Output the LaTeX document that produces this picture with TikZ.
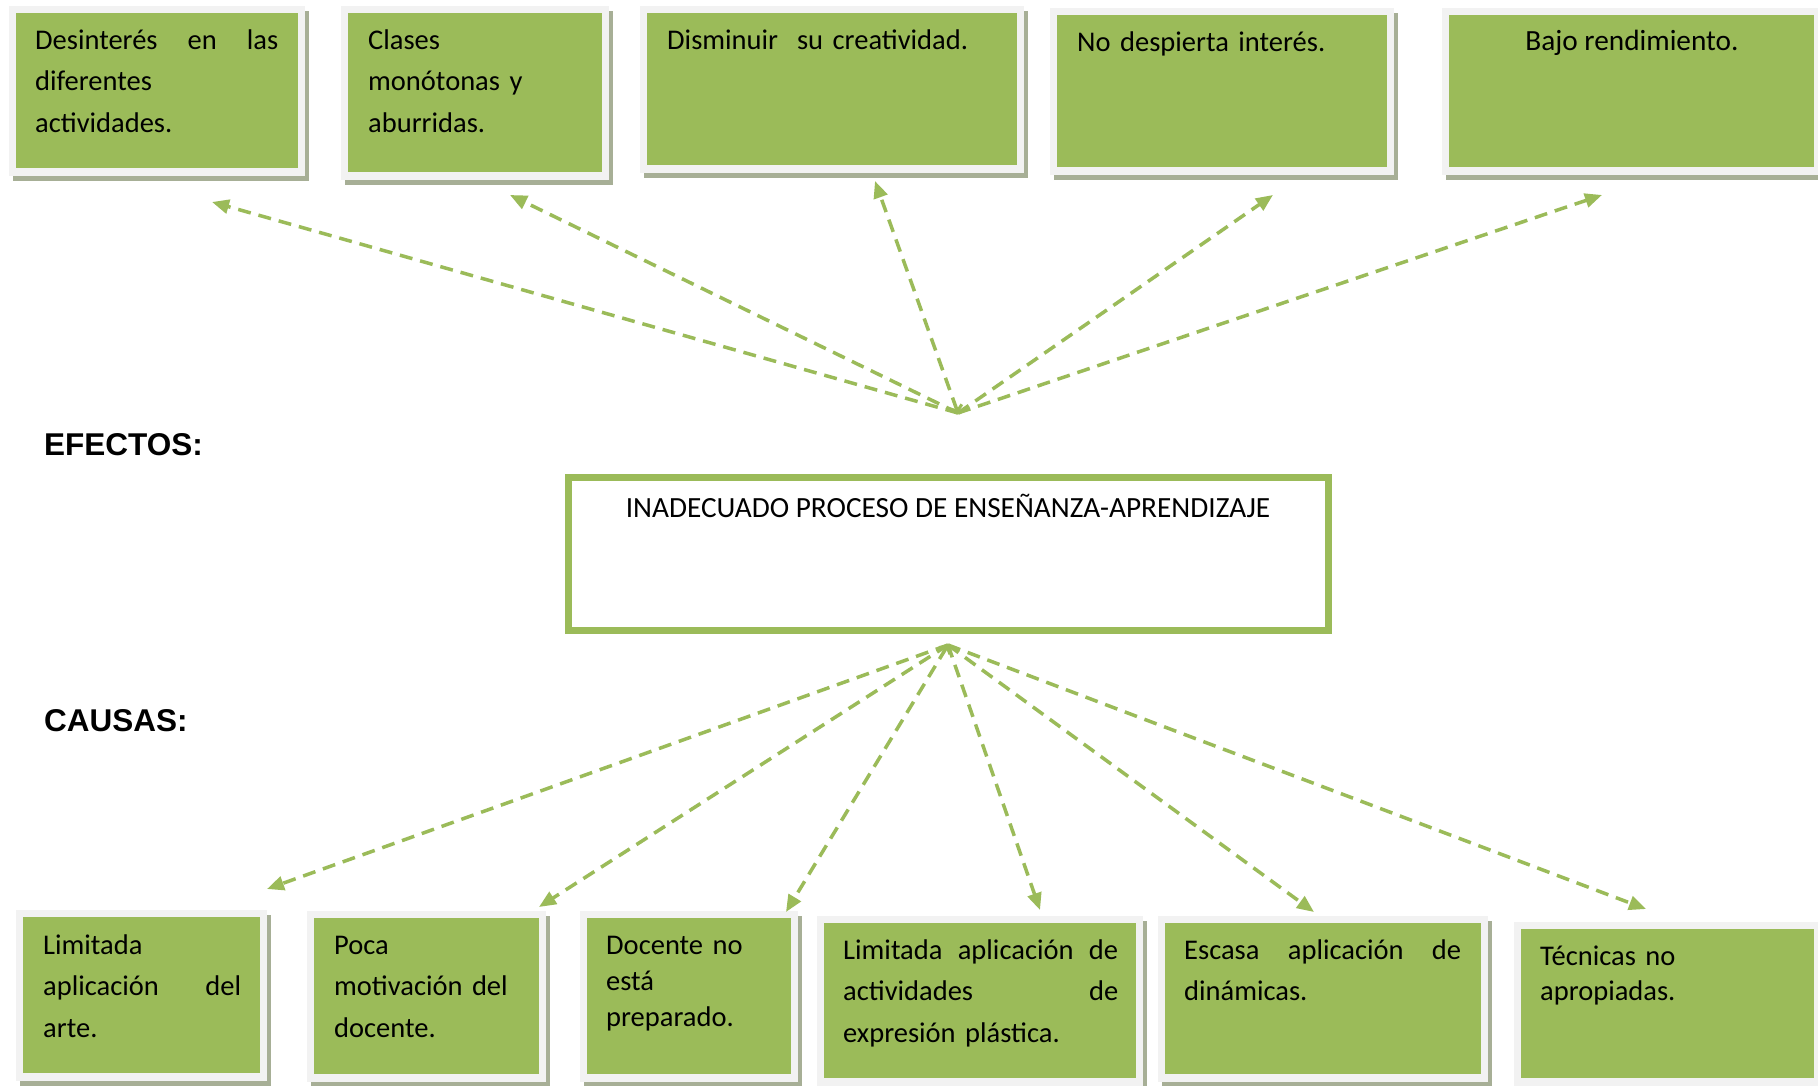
\documentclass[tikz,border=0pt]{standalone}
\usepackage{fontspec}
\setmainfont{Carlito}
\newfontfamily\hdfont{Liberation Sans}
\usetikzlibrary{arrows.meta}
\definecolor{gr}{HTML}{9BBB59}
\definecolor{frm}{HTML}{F2F2F2}
\definecolor{shd}{HTML}{A7AF96}
\tikzset{
  greenbox/.style={fill=gr, draw=none, inner sep=0pt, outer sep=0pt, anchor=north west},
  boxtext/.style={anchor=north west, inner sep=0pt, align=left, text width=#1,
    font=\fontsize{28.5}{41.5}\selectfont},
  tipT/.tip={Triangle[length=17pt,width=14pt]},
  conn/.style={draw=gr, line width=3.5pt, dash pattern=on 13pt off 8pt, -tipT},
  startbarb/.style={{Straight Barb[length=5pt,width=13pt,line width=3pt]}-tipT},
  heading/.style={font=\hdfont\bfseries\fontsize{31.5}{36}\selectfont, anchor=base west, inner sep=0pt},
  mainbox/.style={draw=gr, line width=7pt, fill=white, inner sep=0pt},
  maintext/.style={font=\fontsize{29.3}{34}\selectfont, anchor=base, inner sep=0pt},
}
% name, x1, y1, x2, y2 (inner green rectangle, pixels)
\newcommand\gbox[5]{%
  \fill[shd] (#2-3,#3-2) rectangle (#4+11,#5+13);
  \fill[frm] (#2-7,#3-7) rectangle (#4+7,#5+8);
  \node[greenbox, minimum width={#4-#2}, minimum height={#5-#3}] (#1) at (#2,#3) {};
}
\begin{document}
\begin{tikzpicture}[x=1pt, y=-1pt]
\fill[white] (0,0) rectangle (1818,1086);
\useasboundingbox (0,0) rectangle (1818,1086);

% effect boxes
\gbox{e1}{16}{13}{298}{168}
\gbox{e2}{348}{13}{602}{172}
\gbox{e3}{647}{13}{1017}{165}
\gbox{e4}{1057}{15}{1387}{167}
\gbox{e5}{1449}{15}{1814}{167}

\node[boxtext=243pt] (e1t) at (35,21) {\rule{0pt}{28pt}Desinterés\hfill en\hfill las\\diferentes\\actividades.};
\node[boxtext=230pt] (e2t) at (368,21) {\rule{0pt}{28pt}Clases\\monótonas y\\aburridas.};
\node[boxtext=340pt] (e3t) at (667,21) {\rule{0pt}{28pt}Disminuir\ \ su creatividad.};
\node[boxtext=300pt] (e4t) at (1077,23) {\rule{0pt}{28pt}No despierta interés.};
\node[maintext] (e5t) at (1632,51) {Bajo rendimiento.};

% cause boxes
\gbox{c1}{23}{917}{260}{1073}
\gbox{c2}{314}{918}{539}{1074}
\gbox{c3}{587}{918}{791}{1074}
\gbox{c4}{824}{923}{1136}{1078}
\gbox{c5}{1165}{923}{1481}{1074}
\gbox{c6}{1521}{929}{1814}{1078}

\node[boxtext=198pt] (c1t) at (43,926) {\rule{0pt}{28pt}Limitada\\aplicación\hfill del\\arte.};
\node[boxtext=200pt] (c2t) at (334,926) {\rule{0pt}{28pt}Poca\\motivación del\\docente.};
\node[boxtext=180pt, font=\fontsize{28.5}{36}\selectfont] (c3t) at (606,926) {\rule{0pt}{28pt}Docente no\\está\\preparado.};
\node[boxtext=275pt] (c4t) at (843,931) {\rule{0pt}{28pt}Limitada\hfill aplicación\hfill de\\actividades\hfill de\\expresión plástica.};
\node[boxtext=277pt] (c5t) at (1184,931) {\rule{0pt}{28pt}Escasa\hfill aplicación\hfill de\\dinámicas.};
\node[boxtext=260pt, font=\fontsize{28.5}{35}\selectfont] (c6t) at (1540,937) {\rule{0pt}{28pt}Técnicas no\\apropiadas.};

% headings
\node[heading] (efectos) at (44,455) {EFECTOS:};
\node[heading] (causas) at (44,731) {CAUSAS:};

% central problem
\node[mainbox, minimum width=760pt, minimum height=153pt] (main) at (948.5,554) {};
\node[maintext] (maint) at (948,517) {INADECUADO PROCESO DE ENSEÑANZA-APRENDIZAJE};

% connectors: effects
\coordinate (ctop) at (958,413);
\coordinate (t1) at (212,202);
\coordinate (t2) at (510,195);
\coordinate (t3) at (875,181);
\coordinate (t4) at (1273,195);
\coordinate (t5) at (1602,195);
\draw[conn] (ctop) -- (t1);
\draw[conn] (ctop) -- (t2);
\draw[conn, startbarb] (ctop) -- (t3);
\draw[conn] (ctop) -- (t4);
\draw[conn] (ctop) -- (t5);

% connectors: causes
\coordinate (cbot) at (948,645);
\coordinate (b1) at (267,889);
\coordinate (b2) at (539,907);
\coordinate (b3) at (786,912);
\coordinate (b4) at (1040,910);
\coordinate (b5) at (1314,912);
\coordinate (b6) at (1646,909);
\draw[conn] (cbot) -- (b1);
\draw[conn] (cbot) -- (b2);
\draw[conn, startbarb] (cbot) -- (b3);
\draw[conn] (cbot) -- (b4);
\draw[conn] (cbot) -- (b5);
\draw[conn] (cbot) -- (b6);
\end{tikzpicture}
\end{document}
